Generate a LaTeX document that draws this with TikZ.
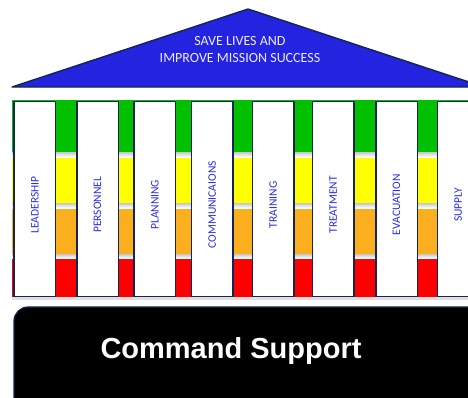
\documentclass[tikz,border=0pt]{standalone}
\usepackage{fontspec}
\setmainfont{Carlito}
\newfontfamily\arialfont{Liberation Sans}
\usepackage{tikz}
\usetikzlibrary{positioning}

\definecolor{roofblue}{HTML}{2323E0}
\definecolor{navy}{HTML}{16254F}
\definecolor{lblblue}{HTML}{2A2AEE}
\definecolor{bandgreen}{HTML}{00C000}
\definecolor{bandyellow}{HTML}{FFFF00}
\definecolor{bandorange}{HTML}{FBAE1E}
\definecolor{bandred}{HTML}{FF0000}

\tikzset{
  pillar/.style={draw=navy, line width=1.6pt, fill=white, minimum width=41.5pt, minimum height=195pt, inner sep=0pt},
  pillarlbl/.style={rotate=90, text=lblblue, font=\fontsize{11.5}{13}\selectfont},
  sepline/.style={top color=gray!45, bottom color=white, draw=none}
}

\begin{document}
\begin{tikzpicture}[x=1pt, y=-1pt]
    \useasboundingbox (0,0) rectangle (468,397);
    \clip (0,0) rectangle (468,397);

    % Draw roof
    \draw[navy, line width=1.4pt, fill=roofblue, line join=round] (12,87) -- (248,9) -- (484,87) -- cycle;
    \node[text=blue!8!white, align=center, font=\fontsize{14}{17}\selectfont] (roof) at (240,50) {SAVE LIVES AND\\IMPROVE MISSION SUCCESS};

    % Draw colour bands
    \fill[gray!25] (12,297) rectangle (468,300);
    \foreach \top/\bot/\c in {100/152/bandgreen, 157/203/bandyellow, 208/254/bandorange, 258/297/bandred} {
      \fill[\c] (12,\top) rectangle (468,\bot);
    }
    \foreach \top/\bot in {152/157, 203/208, 254/258} {
      \shade[sepline] (12,\top) rectangle (468,\bot);
    }

    % Draw pillars and labels
    \foreach \i/\x/\name in {1/13.3/LEADERSHIP, 2/76/PERSONNEL, 3/133.3/PLANNING, 4/190.7/COMMUNICAIONS, 5/251.7/TRAINING, 6/311.7/TREATMENT, 7/375/EVACUATION, 8/436.7/SUPPLY} {
      \node[pillar, anchor=north west] (p\i) at (\x,100.5) {};
      \node[pillarlbl] (l\i) at ([yshift=-6pt]p\i.center) {\name};
    }

    % Draw base
    \draw[navy, line width=1.2pt, fill=black, rounded corners=14pt] (14,307) rectangle (520,440);
    \node[text=white, font=\arialfont\bfseries\fontsize{29}{34}\selectfont] (cmd) at (231,351) {Command Support};
\end{tikzpicture}
\end{document}
